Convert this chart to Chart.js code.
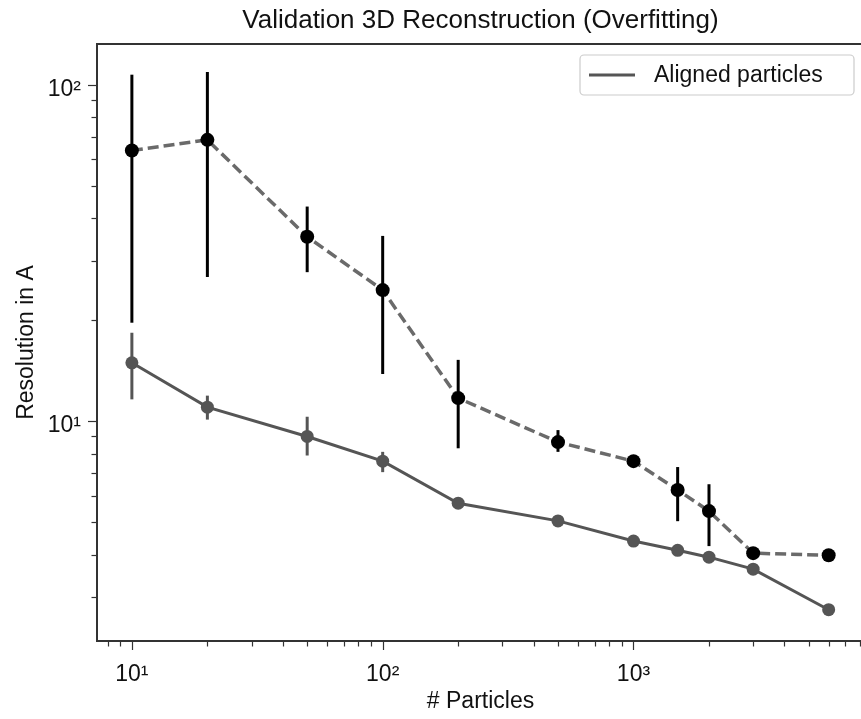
<!DOCTYPE html>
<html>
<head>
<meta charset="utf-8">
<script src="https://cdn.jsdelivr.net/npm/chart.js@4.4.1/dist/chart.umd.min.js"></script>
<style>
  html, body { margin: 0; padding: 0; overflow: hidden; background: #fff; }
  #wrap { width: 871px; height: 719px; }
</style>
</head>
<body>
<div id="wrap"><canvas id="resChart" width="871" height="719"></canvas></div>
<script>
// number of particles (x) and resolution values (y)
const particles = [10, 20, 50, 100, 200, 500, 1000, 1500, 2000, 3000, 6000];

const alignedRes  = [14.9, 11.0, 9.0, 7.6, 5.7, 5.05, 4.4, 4.13, 3.94, 3.63, 2.75];
const alignedLow  = [11.6, 10.1, 7.9, 7.05, null, null, null, null, null, null, null];
const alignedHigh = [18.3, 11.9, 10.3, 8.1, null, null, null, null, null, null, null];

const overfitRes  = [63.7, 68.5, 35.3, 24.5, 11.7, 8.66, 7.6, 6.24, 5.40, 4.05, 3.99];
const overfitLow  = [19.6, 26.8, 27.7, 13.8, 8.3, 8.1, null, 5.04, 4.25, null, null];
const overfitHigh = [107, 109, 43.4, 35.5, 15.2, 9.4, null, 7.3, 6.49, null, null];

const xRange = [7.26, 8300];
const yRange = [2.22, 132];
const supDigits = { '-1': '⁻¹', '0': '⁰', '1': '¹', '2': '²', '3': '³', '4': '⁴' };

const FONT = "'Liberation Sans', Arial, Helvetica, sans-serif";

function logTicks(min, max) {
  const out = [];
  for (let e = -1; e <= 4; e++) {
    for (let m = 1; m <= 9; m++) {
      const v = m * Math.pow(10, e);
      if (v >= min && v <= max) out.push({ value: v, major: m === 1 });
    }
  }
  return out;
}

function decadeLabel(v) {
  const e = Math.round(Math.log10(v));
  if (Math.abs(v - Math.pow(10, e)) < 1e-9 * v) return '10' + supDigits[String(e)];
  return '';
}

function toPoints(xs, ys) {
  return xs.map((x, i) => ({ x: x, y: ys[i] }));
}

// error bars, frame, tick marks and legend
const extrasPlugin = {
  id: 'extras',
  beforeDatasetsDraw(chart) {
    const ctx = chart.ctx;
    const xs = chart.scales.x, ys = chart.scales.y;
    const bars = [
      { low: overfitLow, high: overfitHigh, color: '#000', width: 3 },
      { low: alignedLow, high: alignedHigh, color: '#555', width: 3 }
    ];
    ctx.save();
    bars.forEach(b => {
      ctx.strokeStyle = b.color;
      ctx.lineWidth = b.width;
      particles.forEach((p, i) => {
        if (b.low[i] == null) return;
        const px = xs.getPixelForValue(p);
        ctx.beginPath();
        ctx.moveTo(px, ys.getPixelForValue(b.low[i]));
        ctx.lineTo(px, ys.getPixelForValue(b.high[i]));
        ctx.stroke();
      });
    });
    ctx.restore();
  },
  afterDraw(chart) {
    const ctx = chart.ctx;
    const a = chart.chartArea;
    const xs = chart.scales.x, ys = chart.scales.y;
    ctx.save();
    ctx.strokeStyle = '#333';
    ctx.lineWidth = 2;
    ctx.strokeRect(a.left, a.top, a.right - a.left, a.bottom - a.top);

    ctx.lineWidth = 1.2;
    xs.ticks.forEach(t => {
      const px = Math.round(xs.getPixelForValue(t.value)) + 0.5;
      const len = t.major ? 8 : 4.5;
      ctx.beginPath();
      ctx.moveTo(px, a.bottom + 1);
      ctx.lineTo(px, a.bottom + 1 + len);
      ctx.stroke();
    });
    ys.ticks.forEach(t => {
      const py = Math.round(ys.getPixelForValue(t.value)) + 0.5;
      const len = t.major ? 8 : 4.5;
      ctx.beginPath();
      ctx.moveTo(a.left - 1, py);
      ctx.lineTo(a.left - 1 - len, py);
      ctx.stroke();
    });

    // legend box
    const bx = 580, by = 55, bw = 274, bh = 40;
    ctx.fillStyle = 'rgba(255,255,255,0.85)';
    ctx.strokeStyle = '#cccccc';
    ctx.lineWidth = 1.2;
    ctx.beginPath();
    ctx.roundRect(bx, by, bw, bh, 4);
    ctx.fill();
    ctx.stroke();
    ctx.strokeStyle = '#555';
    ctx.lineWidth = 3;
    ctx.beginPath();
    ctx.moveTo(589, 75);
    ctx.lineTo(635, 75);
    ctx.stroke();
    ctx.fillStyle = '#111';
    ctx.font = '23px ' + FONT;
    ctx.textBaseline = 'middle';
    ctx.textAlign = 'left';
    ctx.fillText('Aligned particles', 654, 76);
    ctx.restore();
  }
};

new Chart(document.getElementById('resChart').getContext('2d'), {
  type: 'line',
  data: {
    datasets: [
      {
        label: 'Aligned particles',
        data: toPoints(particles, alignedRes),
        borderColor: '#555',
        borderWidth: 3,
        pointRadius: 6.5,
        pointBackgroundColor: '#555',
        pointBorderColor: '#555',
        pointBorderWidth: 0,
        tension: 0
      },
      {
        label: 'Overfitting',
        data: toPoints(particles, overfitRes),
        borderColor: '#6a6a6a',
        borderWidth: 3.5,
        borderDash: [11, 5],
        pointRadius: 7,
        pointBackgroundColor: '#000',
        pointBorderColor: '#000',
        pointBorderWidth: 0,
        tension: 0
      }
    ]
  },
  options: {
    responsive: false,
    animation: false,
    layout: { padding: { left: 0, right: 2, top: 0, bottom: 0 } },
    plugins: {
      legend: { display: false },
      tooltip: { enabled: false },
      title: {
        display: true,
        fullSize: false,
        text: 'Validation 3D Reconstruction (Overfitting)',
        color: '#111',
        font: { family: FONT, size: 26, weight: 'normal' },
        padding: { top: 5, bottom: 7.8 }
      }
    },
    scales: {
      x: {
        type: 'logarithmic',
        min: xRange[0],
        max: xRange[1],
        afterBuildTicks: s => { s.ticks = logTicks(s.min, s.max); },
        afterFit: s => { s.height = 78; s.paddingLeft = 0; s.paddingRight = 0; },
        grid: { display: false, drawTicks: false },
        border: { display: false },
        ticks: {
          autoSkip: false,
          maxRotation: 0,
          padding: 20,
          color: '#111',
          font: { family: FONT, size: 23 },
          callback: v => decadeLabel(v)
        },
        title: {
          display: true,
          text: '# Particles',
          color: '#111',
          font: { family: FONT, size: 23 },
          padding: { top: 0, bottom: 3.2 }
        }
      },
      y: {
        type: 'logarithmic',
        min: yRange[0],
        max: yRange[1],
        afterBuildTicks: s => { s.ticks = logTicks(s.min, s.max); },
        afterFit: s => { s.width = 97; s.paddingTop = 0; s.paddingBottom = 0; },
        grid: { display: false, drawTicks: false },
        border: { display: false },
        ticks: {
          autoSkip: false,
          padding: 16,
          labelOffset: 5,
          color: '#111',
          font: { family: FONT, size: 23 },
          callback: v => decadeLabel(v)
        },
        title: {
          display: true,
          text: 'Resolution in A',
          color: '#111',
          font: { family: FONT, size: 23 },
          padding: { top: 13.2, bottom: 0 }
        }
      }
    }
  },
  plugins: [extrasPlugin]
});
</script>
</body>
</html>
